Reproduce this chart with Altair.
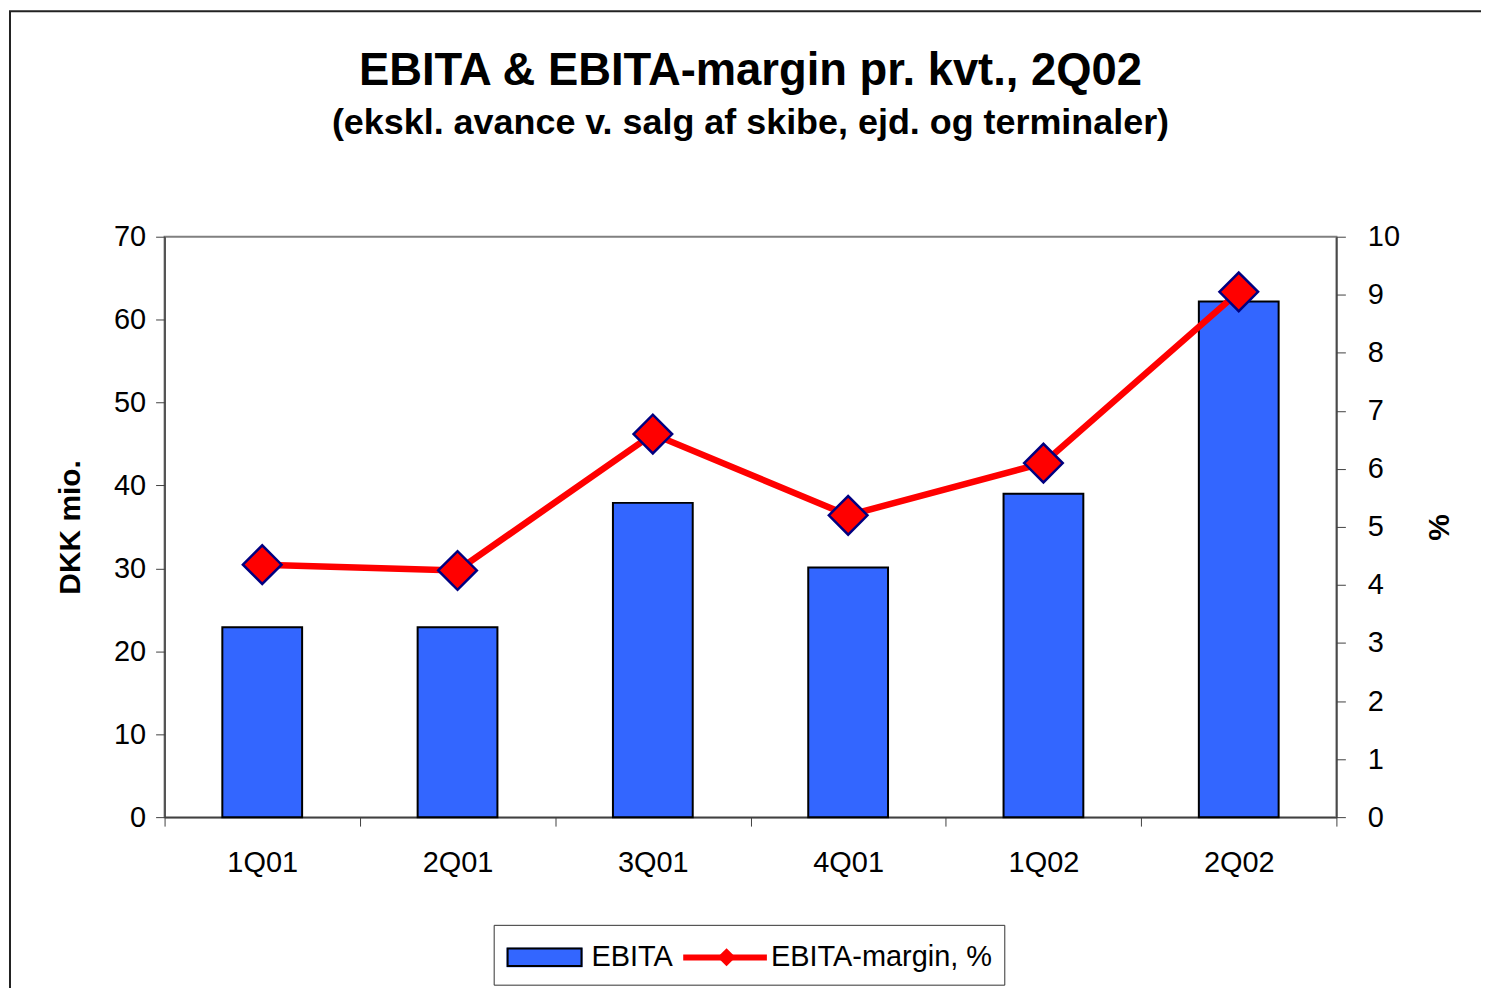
import altair as alt
import pandas as pd

quarters = ["1Q01", "2Q01", "3Q01", "4Q01", "1Q02", "2Q02"]
ebita = [22.9, 22.9, 37.9, 30.1, 39.0, 62.2]
margin = [4.35, 4.25, 6.6, 5.2, 6.1, 9.05]

left_ticks = [0, 10, 20, 30, 40, 50, 60, 70]
right_ticks = [0, 1, 2, 3, 4, 5, 6, 7, 8, 9, 10]

series_names = ["EBITA", "EBITA-margin, %"]
series_colors = ["#3366FF", "#FF0000"]

df = pd.DataFrame({
    "q": quarters, "ebita": ebita, "margin": margin,
    "bar_series": [series_names[0]] * len(quarters),
    "line_series": [series_names[1]] * len(quarters),
})

FONT = "Liberation Sans"
W, H = 1175, 582
RECT_PATH = "M-0.95,-0.45H2.85V0.45H-0.95Z"
LINE_PATH = "M-1.1,-0.1H3.1V0.1H-1.1Z"

x_enc = alt.X(
    "q:N",
    sort=quarters,
    scale=alt.Scale(paddingInner=0, paddingOuter=0),
    axis=alt.Axis(
        title=None, labelAngle=0, labelFontSize=29, labelFont=FONT, labelColor="black",
        tickBand="extent", tickSize=9, tickColor="#404040", domainColor="#404040",
        domainWidth=1.5, labelPadding=23, grid=False,
    ),
)

color_legend = alt.Legend(
    title=None, orient="none", direction="horizontal", legendX=330, legendY=690,
    symbolSize=1521, labelOffset=45, columnPadding=7, padding=12, labelLimit=600,
    labelFontSize=29, labelFont=FONT, labelColor="black",
    strokeColor="#333333", fillColor="white", symbolOpacity=1, symbolStrokeWidth=2,
    symbolType={"expr": f"datum.value === 'EBITA' ? '{RECT_PATH}' : '{LINE_PATH}'"},
    symbolFillColor={"expr": "datum.value === 'EBITA' ? '#3366FF' : '#FF0000'"},
    symbolStrokeColor={"expr": "datum.value === 'EBITA' ? '#000000' : '#FF0000'"},
)

# overlay legend that draws the black outline of the EBITA legend swatch
outline_legend = alt.Legend(
    title=None, orient="none", legendX=342, legendY=702, padding=0,
    symbolSize=1521, symbolType=RECT_PATH, labelExpr="''", labelFontSize=29,
    symbolFillColor="transparent", symbolStrokeColor="#000000", symbolStrokeWidth=2,
    symbolOpacity=1,
)

color_scale = alt.Scale(domain=series_names, range=series_colors)

frame = alt.Chart(alt.Data(values=[{}])).mark_rect(
    fillOpacity=0, stroke="#222222", strokeWidth=2
).encode(
    x=alt.value(-155), x2=alt.value(1360), y=alt.value(-226), y2=alt.value(800)
)

bars = alt.Chart(df).mark_bar(size=80, stroke="black", strokeWidth=2).encode(
    x=x_enc,
    y=alt.Y(
        "ebita:Q",
        scale=alt.Scale(domain=[0, 70], nice=False),
        axis=alt.Axis(
            orient="left", values=left_ticks, title="DKK mio.", titleFontSize=30,
            titleFont=FONT, titleFontWeight="bold", titleColor="black", titlePadding=28,
            labelFontSize=29, labelFont=FONT, labelColor="black", labelPadding=10,
            tickSize=9, tickColor="#404040", domainColor="#404040", domainWidth=1.5, grid=False,
        ),
    ),
    color=alt.Color("bar_series:N", scale=color_scale, legend=color_legend),
    opacity=alt.Opacity(
        "bar_series:O", scale=alt.Scale(domain=[series_names[0]], range=[1]),
        legend=outline_legend,
    ),
)

right_axis = alt.Axis(
    orient="right", values=right_ticks, title="%", titleFontSize=30, titleAngle=270,
    titleFont=FONT, titleFontWeight="bold", titleColor="black", titlePadding=55,
    labelFontSize=29, labelFont=FONT, labelColor="black", labelPadding=22,
    tickSize=9, tickColor="#404040", domainColor="#404040", domainWidth=1.5, grid=False,
)

line = alt.Chart(df).mark_line(strokeWidth=6.5).encode(
    x=x_enc,
    y=alt.Y("margin:Q", scale=alt.Scale(domain=[0, 10], nice=False), axis=right_axis),
    color=alt.Color("line_series:N", scale=color_scale, legend=None),
)

points = alt.Chart(df).mark_point(
    filled=True, fill="#FF0000", stroke="#000080", strokeWidth=2.5, size=1500, opacity=1
).encode(
    x=x_enc,
    y=alt.Y("margin:Q", scale=alt.Scale(domain=[0, 10], nice=False), axis=right_axis),
    shape=alt.Shape(
        "line_series:N",
        scale=alt.Scale(domain=[series_names[1]], range=["diamond"]),
        legend=alt.Legend(
            title=None, orient="none", legendX=553, legendY=712, padding=0,
            symbolSize=330, labelExpr="''", labelFontSize=1, symbolOpacity=1,
            symbolFillColor="#FF0000", symbolStrokeColor="#000080", symbolStrokeWidth=2,
        ),
    ),
)

chart = alt.layer(
    frame, bars, alt.layer(line, points)
).resolve_scale(y="independent").properties(
    width=W, height=H,
    view=alt.ViewBackground(stroke="#808080", strokeWidth=2),
    title=alt.TitleParams(
        text="EBITA & EBITA-margin pr. kvt., 2Q02",
        subtitle="(ekskl. avance v. salg af skibe, ejd. og terminaler)",
        fontSize=45.5, subtitleFontSize=36, font=FONT, subtitleFont=FONT,
        fontWeight="bold", subtitleFontWeight="bold", color="black", subtitleColor="black",
        anchor="middle", frame="group", offset=-131, subtitlePadding=12,
    ),
    autosize=alt.AutoSizeParams(type="none"),
    padding={"left": 157, "top": 228, "right": 145, "bottom": 170},
).configure_view(
    stroke="#808080", strokeWidth=2
).configure(background="white")

chart.save("out.html", embed_options={"renderer": "svg", "actions": False})
